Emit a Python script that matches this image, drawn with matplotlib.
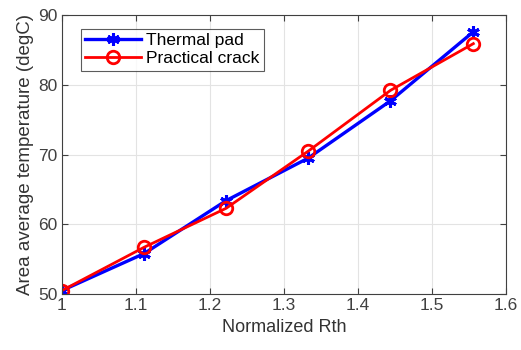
import matplotlib
matplotlib.use("Agg")
import matplotlib.pyplot as plt

plt.rcParams['font.family'] = ['Liberation Sans', 'DejaVu Sans']

rth = [1.0, 1.111, 1.222, 1.333, 1.444, 1.556]
thermal_pad = [50.5, 55.8, 63.4, 69.5, 77.7, 87.6]
practical_crack = [50.5, 56.7, 62.3, 70.5, 79.2, 85.9]
xticks = [1, 1.1, 1.2, 1.3, 1.4, 1.5, 1.6]
yticks = [50, 60, 70, 80, 90]

fig = plt.figure(figsize=(5.21, 3.5), dpi=100)
ax = fig.add_axes([0.119, 0.16, 0.852, 0.797])

ax.plot(rth, thermal_pad, color='#0000ff', lw=2.4, marker=(6, 2, 0), ms=9,
        mew=2.2, label='Thermal pad')
ax.plot(rth, practical_crack, color='#ff0000', lw=2.0, marker='o', ms=9,
        mfc='none', mew=2.0, label='Practical crack')

ax.set_xlim(1, 1.6)
ax.set_ylim(50, 90)
ax.set_xticks(xticks)
ax.set_xticklabels([f'{t:g}' for t in xticks])
ax.set_yticks(yticks)
ax.grid(True, color='#e3e3e3', lw=0.8)
ax.set_axisbelow(True)
ax.tick_params(direction='in', top=True, right=True, length=4,
               colors='#404040', labelsize=12.5, width=0.8)
ax.tick_params(axis='x', pad=3)
ax.tick_params(axis='y', pad=3)
for s in ax.spines.values():
    s.set_color('#404040')
    s.set_linewidth(0.8)

ax.set_xlabel('Normalized Rth', fontsize=13, color='#333333', labelpad=4)
ax.set_ylabel('Area average temperature (degC)', fontsize=13.5,
              color='#333333', labelpad=3)

leg = ax.legend(loc='upper left', bbox_to_anchor=(0.043, 0.95), fontsize=12.5,
                frameon=True, fancybox=False, handlelength=3.2,
                borderpad=0.25, labelspacing=0.15, handletextpad=0.3,
                borderaxespad=0)
leg.get_frame().set_edgecolor('#333333')
leg.get_frame().set_linewidth(0.8)

fig.savefig('out.png', dpi=100)
